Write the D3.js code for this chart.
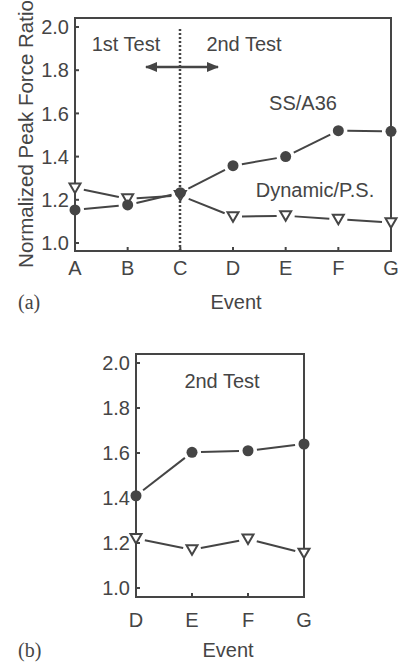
<!DOCTYPE html>
<html>
<head>
<meta charset="utf-8">
<script src="https://cdn.jsdelivr.net/npm/d3@7"></script>
<style>
  html, body { margin: 0; padding: 0; background: #fff; }
  svg { display: block; font-family: "Liberation Sans", Arial, sans-serif; }
</style>
</head>
<body>
<div id="main-container"></div>
<script>
// Data
const EVENTS_A = ['A', 'B', 'C', 'D', 'E', 'F', 'G'];
const SS_A36_A = [1.153, 1.176, 1.233, 1.358, 1.40, 1.52, 1.517];
const DYNAMIC_A = [1.255, 1.205, 1.22, 1.122, 1.126, 1.11, 1.094];

const EVENTS_B = ['D', 'E', 'F', 'G'];
const SS_A36_B = [1.41, 1.603, 1.61, 1.64];
const DYNAMIC_B = [1.22, 1.17, 1.218, 1.155];

const Y_TICKS = [1.0, 1.2, 1.4, 1.6, 1.8, 2.0];

const INK = '#454545';
const W = 401, H = 665;

const SVG = d3.select('#main-container').append('svg')
    .attr('width', W)
    .attr('height', H);

// Arrow marker for the test boundary
const DEFS = SVG.append('defs');
DEFS.append('marker')
    .attr('id', 'arrow')
    .attr('viewBox', '0 0 10 8')
    .attr('refX', 9).attr('refY', 4)
    .attr('markerWidth', 5).attr('markerHeight', 4)
    .attr('markerUnits', 'strokeWidth')
    .attr('orient', 'auto-start-reverse')
    .append('path')
    .attr('d', 'M0,0 L10,4 L0,8 Z')
    .attr('fill', INK);

const triangle = 'M-5.5,-4.5 L5.5,-4.5 L0,5 Z';

function drawPanel(cfg) {
    const x = d3.scalePoint(cfg.events, cfg.xRange);
    const y = d3.scaleLinear([1, 2], cfg.yRange);
    const g = SVG.append('g');
    const [x0, x1] = cfg.xRange;

    // frame
    g.append('rect')
        .attr('x', x0).attr('y', cfg.frameTop)
        .attr('width', x1 - x0).attr('height', cfg.frameBottom - cfg.frameTop)
        .attr('fill', 'none').attr('stroke', INK).attr('stroke-width', 2);

    // y ticks (inward)
    g.selectAll('.ytick').data(Y_TICKS).join('line')
        .attr('x1', x0).attr('x2', x0 + 4)
        .attr('y1', d => y(d)).attr('y2', d => y(d))
        .attr('stroke', INK).attr('stroke-width', 2);
    g.selectAll('.ylab').data(Y_TICKS).join('text')
        .attr('x', x0 - 6).attr('y', d => y(d))
        .attr('dy', '0.36em')
        .attr('text-anchor', 'end')
        .attr('fill', INK)
        .style('font-size', '20px')
        .text(d => d.toFixed(1));

    // x ticks (inward)
    g.selectAll('.xtick').data(cfg.events).join('line')
        .attr('x1', d => x(d)).attr('x2', d => x(d))
        .attr('y1', cfg.frameBottom).attr('y2', cfg.frameBottom - 4)
        .attr('stroke', INK).attr('stroke-width', 2);
    g.selectAll('.xlab').data(cfg.events).join('text')
        .attr('x', d => x(d)).attr('y', cfg.catBaseline)
        .attr('text-anchor', 'middle')
        .attr('fill', INK)
        .style('font-size', '20px')
        .text(d => d);

    g.append('text')
        .attr('x', cfg.eventX).attr('y', cfg.eventBaseline)
        .attr('text-anchor', 'middle')
        .attr('fill', INK)
        .style('font-size', '20px')
        .text('Event');

    g.append('text')
        .attr('x', 18).attr('y', cfg.eventBaseline)
        .attr('fill', INK)
        .style('font-family', '"Liberation Serif", "Times New Roman", serif')
        .style('font-size', '20px')
        .text(cfg.tag);

    if (cfg.extra) cfg.extra(g, x, y);

    // series with gaps between markers
    function series(vals, gap) {
        const pts = cfg.events.map((e, i) => [x(e), y(vals[i])]);
        for (let i = 0; i < pts.length - 1; i++) {
            const [ax, ay] = pts[i], [bx, by] = pts[i + 1];
            const len = Math.hypot(bx - ax, by - ay);
            const ux = (bx - ax) / len, uy = (by - ay) / len;
            g.append('line')
                .attr('x1', ax + ux * gap).attr('y1', ay + uy * gap)
                .attr('x2', bx - ux * gap).attr('y2', by - uy * gap)
                .attr('stroke', INK).attr('stroke-width', 2);
        }
        return pts;
    }
    const tri = series(cfg.dynamic, 9);
    const cir = series(cfg.ss, 9);

    g.selectAll('.tri').data(tri).join('path')
        .attr('d', triangle)
        .attr('transform', d => `translate(${d[0]},${d[1]})`)
        .attr('fill', '#fff').attr('stroke', INK).attr('stroke-width', 2);
    g.selectAll('.cir').data(cir).join('circle')
        .attr('cx', d => d[0]).attr('cy', d => d[1]).attr('r', 5.5)
        .attr('fill', INK);
}

// Panel (a)
drawPanel({
    events: EVENTS_A, ss: SS_A36_A, dynamic: DYNAMIC_A,
    xRange: [75, 391], yRange: [243, 27],
    frameTop: 18, frameBottom: 251,
    catBaseline: 275, eventX: 236, eventBaseline: 309, tag: '(a)',
    extra: (g, x, y) => {
        g.append('line')
            .attr('x1', Math.round(x('C'))).attr('x2', Math.round(x('C')))
            .attr('y1', 29).attr('y2', 251)
            .attr('stroke', INK).attr('stroke-width', 2.5)
            .attr('stroke-dasharray', '2,2');
        g.append('line')
            .attr('x1', 146).attr('x2', 218)
            .attr('y1', 67).attr('y2', 67)
            .attr('stroke', INK).attr('stroke-width', 2.5)
            .attr('marker-start', 'url(#arrow)')
            .attr('marker-end', 'url(#arrow)');
        const labels = [
            { t: '1st Test', x: 126, y: 51 },
            { t: '2nd Test', x: 244, y: 51 },
            { t: 'SS/A36', x: 303, y: 110 },
            { t: 'Dynamic/P.S.', x: 315, y: 197 }
        ];
        g.selectAll('.lab').data(labels).join('text')
            .attr('x', d => d.x).attr('y', d => d.y)
            .attr('text-anchor', 'middle')
            .attr('fill', INK)
            .style('font-size', '20px')
            .text(d => d.t);
        g.append('text')
            .attr('transform', 'translate(33,134) rotate(-90)')
            .attr('text-anchor', 'middle')
            .attr('fill', INK)
            .style('font-size', '20.5px')
            .text('Normalized Peak Force Ratio');
    }
});

// Panel (b)
drawPanel({
    events: EVENTS_B, ss: SS_A36_B, dynamic: DYNAMIC_B,
    xRange: [136, 304], yRange: [588, 363],
    frameTop: 354, frameBottom: 597,
    catBaseline: 627, eventX: 228, eventBaseline: 657, tag: '(b)',
    extra: g => {
        g.append('text')
            .attr('x', 222).attr('y', 388)
            .attr('text-anchor', 'middle')
            .attr('fill', INK)
            .style('font-size', '20px')
            .text('2nd Test');
    }
});
</script>
</body>
</html>
